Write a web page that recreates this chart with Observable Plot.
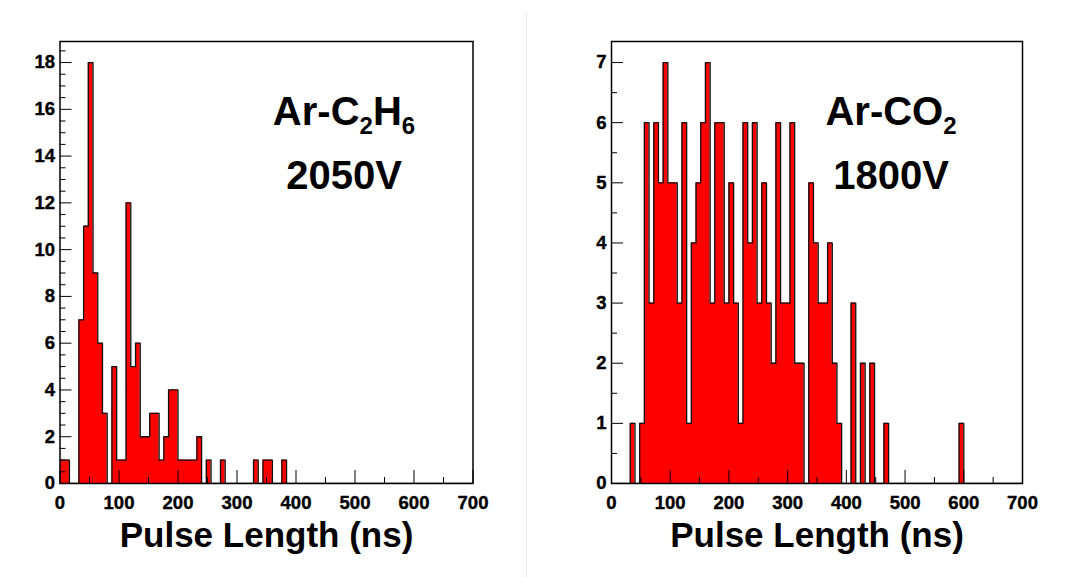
<!DOCTYPE html>
<html><head><meta charset="utf-8">
<script src="https://cdn.jsdelivr.net/npm/d3@7"></script>
<script src="https://cdn.jsdelivr.net/npm/@observablehq/plot@0.6"></script>
<style>
html,body{margin:0;padding:0;background:#fff;}
#wrap{position:relative;width:1070px;height:577px;display:flex;overflow:hidden;}
#sep{position:absolute;left:526px;top:11px;width:1px;height:566px;background:#ebebeb;}
svg{display:block;}
</style></head><body>
<div id="wrap"><div id="left"></div><div id="right"></div><div id="sep"></div></div>
<script>
// ---- data ----
const binWidth = 8;            // ns per histogram bin, bins start at 0
const xMax = 700;
const xMajorTicks = [0, 100, 200, 300, 400, 500, 600, 700];
const xMinorTicks = [50, 150, 250, 350, 450, 550, 650];
const xLabel = "Pulse Length (ns)";

// Ar-C2H6, 2050 V
const leftCounts = [1,1,0,0,7,11,18,9,6,3,0,5,1,1,12,5,6,2,2,3,3,1,2,4,4,1,1,1,1,2,0,1,0,0,1,0,0,0,0,0,0,1,0,1,1,0,0,1];
const leftYMax = 18.9;
const leftYMajor = [0, 2, 4, 6, 8, 10, 12, 14, 16, 18];
const leftYMinorStep = 0.5;
const leftTitle = [["Ar-C", false], ["2", true], ["H", false], ["6", true]];
const leftVoltage = "2050V";

// Ar-CO2, 1800 V
const rightCounts = [0,0,0,0,1,0,1,6,3,6,5,7,5,5,3,6,1,4,5,6,7,3,6,6,3,5,3,1,6,4,6,3,5,3,2,6,3,3,6,2,2,0,5,4,3,3,4,2,1,0,0,3,0,2,0,2,0,0,1,0,0,0,0,0,0,0,0,0,0,0,0,0,0,0,1];
const rightYMax = 7.35;
const rightYMajor = [0, 1, 2, 3, 4, 5, 6, 7];
const rightYMinorStep = 0.5;
const rightTitle = [["Ar-CO", false], ["2", true]];
const rightVoltage = "1800V";

const FONT = "'Liberation Sans', Arial, Helvetica, sans-serif";
const TICK_FS = 18.5;

function panel({counts, yMax, yMajor, yMinorStep, title, voltage, width, marginLeft, marginRight, titleX}) {
  const nBins = Math.ceil(xMax / binWidth);
  const pts = [];
  for (let i = 0; i < nBins; i++) pts.push({x: i * binWidth, y: counts[i] ?? 0});
  pts.push({x: nBins * binWidth, y: 0});
  const yMinor = d3.range(0, yMax, yMinorStep).filter(v => !yMajor.includes(v));
  const height = 577, marginTop = 41, marginBottom = 94;
  const plot = Plot.plot({
    width, height, marginTop, marginBottom, marginLeft, marginRight,
    style: {fontFamily: FONT, background: "transparent", overflow: "visible"},
    x: {domain: [0, xMax]},
    y: {domain: [0, yMax]},
    marks: [
      Plot.areaY(pts, {x: "x", y: "y", curve: "step-after", fill: "#ff0000", clip: true}),
      Plot.lineY(pts, {x: "x", y: "y", curve: "step-after", stroke: "#111", strokeWidth: 1.3, clip: true}),
      Plot.axisX(xMinorTicks, {tickSize: -6, fill: "none", stroke: "#000", label: null}),
      Plot.axisX(xMajorTicks, {tickSize: -13, fill: "none", stroke: "#000", label: null}),
      Plot.axisY(yMinor, {tickSize: -6, fill: "none", stroke: "#000", label: null}),
      Plot.axisY(yMajor, {tickSize: -12, fill: "none", stroke: "#000", label: null}),
      Plot.text(xMajorTicks, {x: d => d, text: d => String(d), frameAnchor: "bottom", lineAnchor: "top", dy: 12,
        fontSize: TICK_FS, fontWeight: "bold", fill: "#000", stroke: "#000", strokeWidth: 0.4}),
      Plot.text(yMajor, {y: d => d, text: d => String(d), frameAnchor: "left", textAnchor: "end", dx: -5,
        fontSize: TICK_FS, fontWeight: "bold", fill: "#000", stroke: "#000", strokeWidth: 0.4}),
      Plot.frame({stroke: "#000", strokeWidth: 1.5}),
      Plot.text([xLabel], {frameAnchor: "bottom", lineAnchor: "top", dy: 39, fontSize: 35,
        fontWeight: "bold", fill: "#000"})
    ]
  });
  const svg = d3.select(plot);
  const t = svg.append("text")
    .attr("x", titleX).attr("y", 125)
    .attr("text-anchor", "middle")
    .attr("font-family", FONT).attr("font-weight", "bold").attr("font-size", 40).attr("fill", "#000");
  let first = true;
  for (const [s, sub] of title) {
    const ts = t.append("tspan").text(s);
    if (sub) ts.attr("font-size", 24).attr("dy", 9);
    else if (!first) ts.attr("dy", -9);
    first = false;
  }
  svg.append("text")
    .attr("x", titleX).attr("y", 189)
    .attr("text-anchor", "middle")
    .attr("font-family", FONT).attr("font-weight", "bold").attr("font-size", 40).attr("fill", "#000")
    .text(voltage);
  return plot;
}

document.getElementById("left").appendChild(panel({
  counts: leftCounts, yMax: leftYMax, yMajor: leftYMajor, yMinorStep: leftYMinorStep,
  title: leftTitle, voltage: leftVoltage, width: 535, marginLeft: 59.5, marginRight: 62.5, titleX: 344
}));
document.getElementById("right").appendChild(panel({
  counts: rightCounts, yMax: rightYMax, yMajor: rightYMajor, yMinorStep: rightYMinorStep,
  title: rightTitle, voltage: rightVoltage, width: 535, marginLeft: 76, marginRight: 48, titleX: 356
}));
</script>
</body></html>
